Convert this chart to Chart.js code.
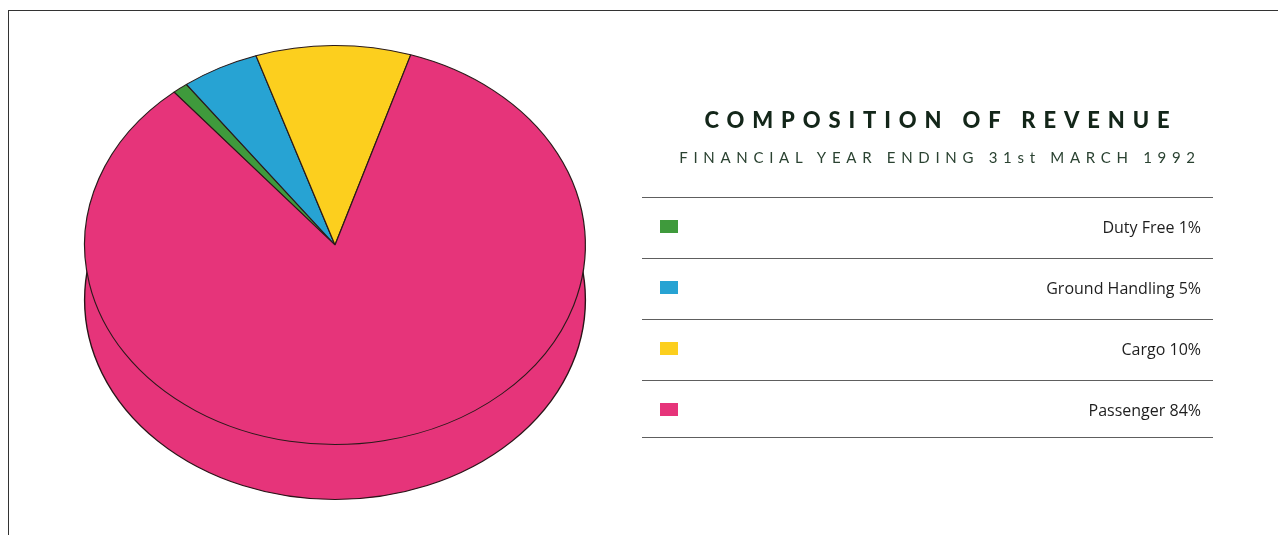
<!DOCTYPE html>
<html>
<head>
<meta charset="utf-8">
<script src="https://cdn.jsdelivr.net/npm/chart.js@4/dist/chart.umd.min.js"></script>
<style>
  html, body { margin: 0; padding: 0; background: #fff; }
  #page { position: relative; width: 1278px; height: 535px; overflow: hidden; }
  #frame { position: absolute; left: 8px; top: 10px; right: -5px; bottom: -5px;
           border-top: 1.6px solid #333; border-left: 1.6px solid #333; }
  #pieBox { position: absolute; left: 0; top: 0; width: 672px; height: 535px; }
  #title { position: absolute; left: 640px; width: 594px; top: 106px; text-align: center;
           font-family: Lato, sans-serif; font-weight: 900; font-size: 22px;
           letter-spacing: 7.9px; padding-left: 8px; box-sizing: border-box; color: #132619; }
  #subtitle { position: absolute; left: 640px; width: 594px; top: 148px; text-align: center;
              font-family: Lato, sans-serif; font-weight: 400; font-size: 15px;
              letter-spacing: 5.7px; padding-left: 6px; box-sizing: border-box; color: #2a4231; }
  #legend { position: absolute; left: 642px; top: 197px; width: 571px; }
  .row { position: relative; height: 60px; border-top: 1.5px solid #5e5e5e; }
  .row:last-child { border-bottom: 1.5px solid #5e5e5e; height: 56px; }
  .sw { position: absolute; left: 18px; top: 22px; width: 18px; height: 13px; }
  .lb { position: absolute; right: 12px; top: 18px; font-family: "Open Sans", sans-serif;
        font-size: 16px; color: #1e1e1e; }
</style>
</head>
<body>
<div id="page">
  <div id="frame"></div>
  <div id="pieBox"><canvas id="pie"></canvas></div>
  <div id="title">COMPOSITION OF REVENUE</div>
  <div id="subtitle">FINANCIAL YEAR ENDING 31st MARCH 1992</div>
  <div id="legend"></div>
</div>
<script>
const categories = ["Duty Free", "Ground Handling", "Cargo", "Passenger"];
const shares = [1, 5, 10, 84];
const sliceColors = ["#3f9a3c", "#27a3d3", "#fccf1e", "#e6347a"];

// pie tilt: top face squashed, plus a side of some depth
const TILT = 200 / 251;
const FACE_CY = 245;
const DEPTH = 55;

const tiltPlugin = {
  id: "tilt",
  beforeDatasetsDraw(chart) {
    const arc = chart.getDatasetMeta(0).data[0];
    if (!arc) return;
    const ctx = chart.ctx;
    const cx = arc.x, cy = arc.y, r = arc.outerRadius;
    ctx.save();
    ctx.translate(0, FACE_CY);
    ctx.scale(1, TILT);
    ctx.translate(0, -cy);
    // side of the pie, shown as the lower ellipse
    ctx.beginPath();
    ctx.arc(cx, cy + DEPTH / TILT, r, 0, Math.PI * 2);
    ctx.fillStyle = sliceColors[sliceColors.length - 1];
    ctx.fill();
    ctx.lineWidth = 1.4;
    ctx.strokeStyle = "#2a1418";
    ctx.stroke();
  },
  afterDatasetsDraw(chart) {
    chart.ctx.restore();
  }
};

new Chart(document.getElementById("pie"), {
  type: "pie",
  data: {
    labels: categories,
    datasets: [{
      data: shares,
      backgroundColor: sliceColors,
      borderColor: "#2a1a1a",
      borderWidth: 1.2,
      clip: false
    }]
  },
  options: {
    responsive: true,
    maintainAspectRatio: false,
    animation: false,
    rotation: -40,
    layout: { padding: { left: 84, right: 86, top: 0, bottom: 0 } },
    plugins: {
      legend: { display: false },
      tooltip: { enabled: false }
    },
    events: []
  },
  plugins: [tiltPlugin]
});

// legend table
const legend = document.getElementById("legend");
categories.forEach((name, i) => {
  const row = document.createElement("div");
  row.className = "row";
  const sw = document.createElement("div");
  sw.className = "sw";
  sw.style.background = sliceColors[i];
  const lb = document.createElement("div");
  lb.className = "lb";
  lb.textContent = name + " " + shares[i] + "%";
  row.appendChild(sw);
  row.appendChild(lb);
  legend.appendChild(row);
});
</script>
</body>
</html>
